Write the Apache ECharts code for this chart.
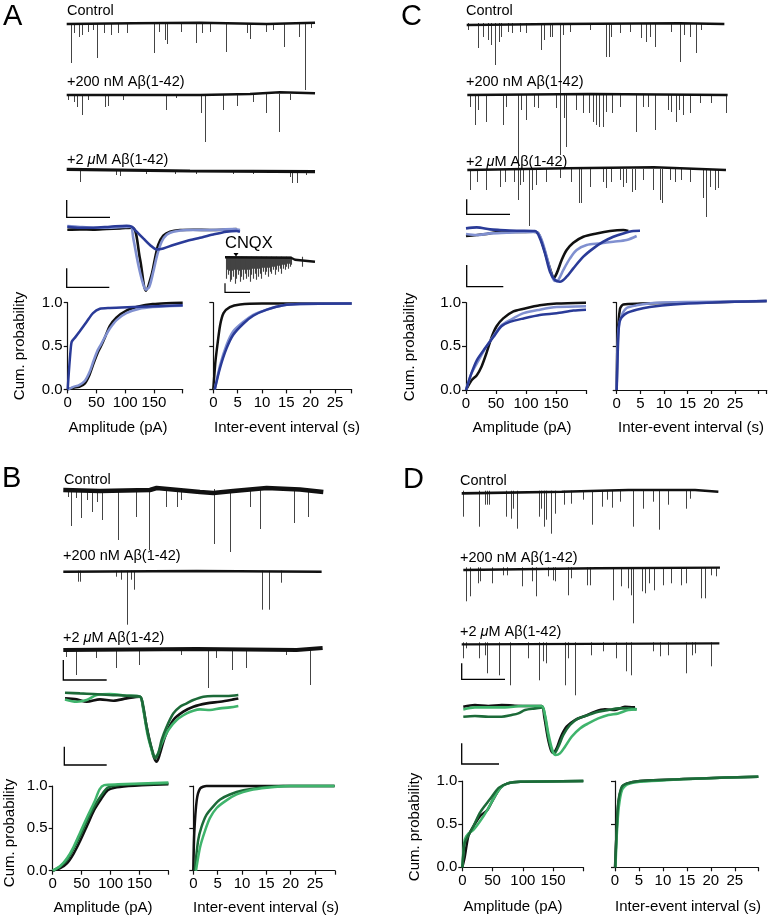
<!DOCTYPE html>
<html><head><meta charset="utf-8">
<script src="https://cdn.jsdelivr.net/npm/echarts@6/dist/echarts.min.js"></script>
<style>html,body{margin:0;padding:0;background:#fff}#c{width:770px;height:918px}</style>
</head><body><div id="c"></div>
<script>
// ================= DATA =================
// Sweep traces: events [time (s), amplitude (pA, downward)], baseline [time, level]
const aCtrlEvents = [[1.5,39],[2.2,9],[3.8,13],[4.8,11],[6.5,8],[8,6],[9.3,34],[11.2,9],[13.5,11],[15.5,9],[18.3,9],[26.3,29],[27.8,8],[29.7,16],[30.3,20],[34.5,8],[39,19],[40.6,9],[43,8],[47.8,28],[54.2,9],[55,15],[60,8],[62,6],[65.3,23],[69.7,13],[71.5,66],[73.5,4]];
const aCtrlBase = [[0,0],[20,0.7],[40,1.3],[60,0],[74.5,1.3]];
const a200Events = [[0.5,5],[2.2,7],[3.2,12],[4.8,20],[6.5,5],[11.5,12],[12.5,11],[17,5],[29.8,15],[33,3],[40.5,18],[41.7,47],[47,15],[51.2,11],[56,7],[60,18],[63.8,37],[67,5]];
const a200Base = [[0,0],[40,0],[55,1],[64,2.7],[74.5,1.7]];
const a2uEvents = [[4,11],[15,4],[16,5],[24,3],[32.5,3],[39,3],[50,3],[56,3],[67,6],[67.8,12],[69.3,12],[72,4]];
const a2uBase = [[0,1.7],[37,0],[74.5,-0.7]];
const cnqxEvents = [[1.7,21],[2.5,12],[3.3,17],[4.2,13],[5,24],[5.8,12],[6.7,22],[7.5,13],[8.3,19],[9.2,12],[10,26],[10.8,13],[11.7,21],[12.5,12],[13.3,17],[14.2,13],[15,24],[15.8,12],[16.7,19],[17.5,12],[18.3,22],[19.2,12],[20,16],[20.8,12],[21.7,21],[22.5,12],[23.3,19],[24.2,12],[25,24],[25.8,11],[26.7,17],[27.5,11],[28.3,21],[29.2,11],[30,16],[30.8,11],[31.7,22],[32.5,11],[33.3,19],[34.2,11],[35,16],[35.8,11],[36.7,21],[37.5,10],[38.3,14],[39.2,10],[40,17],[40.8,10],[41.7,14],[42.5,10],[43.3,19],[44.2,10],[45,14],[45.8,9],[46.7,16],[47.5,9],[48.3,12],[49.2,9],[50,17],[50.8,9],[51.7,12],[52.5,8],[53.3,14],[54.2,8],[55,11],[55.8,8],[56.7,16],[57.5,7],[58.3,11],[59.2,7],[60,12],[60.8,7],[61.7,9],[62.5,6],[63.3,11],[64.2,6],[65,9],[66.7,7],[77.3,9]];
const cnqxBase = [[0,0.5],[66,0],[70,-2],[90,-4]];

const cCtrlEvents = [[0.5,6],[3.5,24],[5,13],[6.5,16],[7.5,21],[8.7,41],[9.7,18],[10.5,13],[12.5,8],[13.8,9],[16.2,8],[18,9],[22.5,26],[23.3,16],[25,13],[25.7,13],[28,131],[29,11],[31,8],[37,6],[42,33],[42.7,33],[43.5,13],[46,9],[49,8],[52.5,14],[54,18],[55,13],[56.7,23],[61.5,8],[64.2,38],[65.2,11],[67,13],[68.8,29],[70.5,6]];
const cCtrlBase = [[0,-1],[27,0],[64,0.7],[77.3,0]];
const c200Events = [[0.8,12],[2.3,30],[3.3,15],[5.8,27],[10.8,30],[11.8,12],[15.3,105],[16.3,15],[17.8,25],[20,12],[21.3,13],[26.8,13],[28,25],[29,23],[29.6,52],[32.8,15],[34.8,18],[36.6,18],[37.8,27],[38.8,30],[39.6,32],[40.8,32],[41.8,17],[43.6,18],[45.8,12],[50.6,37],[52.8,12],[54.3,12],[56.5,35],[60.3,15],[61.3,17],[62.6,27],[63.6,15],[64.8,20],[66.8,18],[69.8,8],[73.3,8],[77.8,18]];
const c200Base = [[0,0],[37,1],[78.1,0]];
const c2uEvents = [[0.8,20],[3,12],[5.8,20],[9.8,17],[11.3,12],[14,12],[15.8,15],[16.8,12],[18.6,56],[19.6,20],[20.6,15],[23.8,12],[27.8,8],[31.3,12],[33.6,33],[34.3,33],[36.8,17],[40.8,12],[41.8,18],[43.3,12],[45.8,10],[46.8,17],[47.6,13],[49.6,22],[50.3,20],[52.8,10],[55.8,20],[57.8,30],[58.6,33],[60.8,10],[62.3,12],[64.3,10],[66.8,12],[70.8,28],[71.8,47],[72.8,17],[74.3,20],[75.3,18]];
const c2uBase = [[0,0],[30,1.7],[56,2.7],[77.6,0]];

const bCtrlEvents = [[1.5,7],[2.5,36],[4,8],[5.3,28],[7.2,10],[8.8,22],[10.3,12],[11.7,30],[16.5,50],[21.8,27],[25.7,60],[31,17],[34.3,17],[35.5,10],[45.3,54],[50,62],[56,17],[59,39],[69.2,33],[73.5,27]];
const bCtrlBase = [[0,0],[11,-1],[26,0],[28,2],[41,-2],[45,-3],[51,-1],[61,2],[71,0.5],[78,-2]];
const b200Events = [[4.5,10],[5.2,10],[16,5],[17.5,8],[19.3,53],[20.3,8],[21.2,18],[59.7,38],[61.8,38],[65.5,11]];
const b200Base = [[0,0],[40,0.7],[77.5,0]];
const b2uEvents = [[1,7],[3.8,25],[10,8],[16,18],[22.8,15],[35.5,5],[43.6,38],[46,8],[50.7,20],[55,18],[67,5],[74.2,35]];
const b2uBase = [[0,0],[40,1],[70,0],[77.8,2]];

const dCtrlEvents = [[0.5,25],[5.2,35],[7,13],[7.7,13],[8.3,13],[13.3,25],[15,27],[15.5,17],[16.7,37],[23.3,25],[24,17],[24.7,35],[25.5,28],[26.8,42],[28,22],[30.7,13],[33,12],[36.5,8],[39.3,33],[42.3,15],[43.7,8],[45.2,16],[47.5,10],[51.5,35],[54.5,17],[57.5,10],[59.3,38],[62,13],[67.3,17],[68.5,7]];
const dCtrlBase = [[0,-1.7],[30,0],[50,1.7],[70,1.7],[77,0]];
const d200Events = [[1,33],[2.2,28],[4.5,15],[5.2,13],[8.8,15],[12,7],[13.2,7],[17.8,18],[20.8,13],[21.8,28],[25.5,8],[27,12],[27.7,13],[31.5,27],[32.5,10],[37.2,17],[38,17],[45,32],[47.3,18],[49.5,20],[50.3,27],[51,55],[53.8,23],[54.7,25],[55.8,15],[57.2,22],[60,17],[62.5,15],[65.5,17],[66.8,15],[71.3,30],[72.5,30],[74.5,7],[76,8]];
const d200Base = [[0,-1.7],[40,0],[77,0.7]];
const d2uEvents = [[0.5,15],[1.5,5],[5.2,15],[7,12],[7.8,30],[11.3,32],[14.5,42],[20,15],[23.3,37],[24.5,18],[25.5,20],[31,42],[32,15],[34,52],[39,12],[42.5,8],[46.5,15],[49.3,28],[51,32],[57.5,8],[59.5,13],[62,12],[67.3,30],[69.3,12],[70,10],[75,23]];
const d2uBase = [[0,-1],[77.3,0]];

// Averaged events [time (ms), current]
const aAvgCtrl = [[0,-2],[3.8,-1.7],[7.8,-2],[11.8,-1.3],[15.8,-0.7],[19.6,0],[21.8,-31],[23.6,-63],[25.3,-47],[26.3,-31],[27.3,-17],[28.8,-8],[30.8,-4],[33.8,-2.3],[37.8,-2],[42.8,-2.3],[46.8,-2],[50.8,-1.3]];
const aAvg200 = [[0,1.7],[3.8,0.7],[7.8,0],[12.8,0],[16.8,0.7],[19,1],[19.8,-10.7],[21.3,-37],[22.8,-57],[23.6,-62],[24.6,-59],[25.8,-44],[27,-27],[28.3,-14],[29.8,-7],[31.8,-4],[35.8,-2.3],[40.8,-2.3],[45.8,-2],[49.8,-1.3],[51.8,-2.3]];
const aAvg2u = [[0,1],[3.8,0],[7.8,0],[12.8,1],[17.8,2],[19.3,1],[20.8,-4],[22.8,-10.7],[24.8,-17.3],[26.8,-21.7],[28.8,-20.7],[31.8,-17.3],[35.8,-13.3],[39.8,-10],[43.8,-6.7],[47.8,-4],[50.8,-3.3],[51.8,-4]];
const cAvgCtrl = [[0,-4.3],[3.2,-3.3],[6.2,-2.3],[10.2,0],[15.2,-0.3],[20.2,0],[21.7,-1.7],[23.2,-15],[24.7,-31.7],[26,-45],[26.2,-46.7],[27.2,-41.7],[28.7,-28.3],[30.2,-18.3],[32.2,-11],[35.2,-5],[39.2,-1.7],[43.2,0.7],[47.2,1.7],[48.7,0.7]];
const cAvg200 = [[0,-2.3],[3.2,-3.3],[7.2,-1.7],[12.2,-1],[17.2,-0.3],[21.2,-0.3],[22.7,-8.3],[24.2,-25],[25.7,-43.3],[26.7,-49.3],[27.7,-48.3],[29.2,-38.3],[31.2,-26.7],[33.2,-18.3],[36.2,-13.3],[40.2,-11.7],[44.2,-10],[48.2,-8.3],[51.2,-4.3]];
const cAvg2u = [[0,3.3],[3.2,4.3],[7.2,2.3],[10.2,1.7],[15.2,1],[20.7,0.7],[22.2,-6.7],[23.7,-21.7],[25.2,-40],[26.7,-48.3],[28.2,-50],[30.2,-45],[32.2,-36.7],[35.2,-25],[38.2,-16.7],[41.2,-10],[44.2,-5],[47.2,-1.7],[50.2,0.7],[52.2,1]];
const bAvgCtrl = [[0,-1.7],[3.5,-2.7],[6.5,-5],[10.5,-2.7],[14.5,-4],[18.5,-1.7],[22.5,0],[23.3,-8.3],[24.5,-30],[25.7,-48.3],[26.8,-61.7],[27.5,-65],[28.5,-56.7],[30,-40],[32.5,-23.3],[35.5,-15],[38.5,-10],[42.5,-6.7],[46.5,-5],[50.5,-2.7],[52,-1.7]];
const bAvg200 = [[0,-2.7],[3.5,-5],[6.5,-3.3],[9.5,1.7],[13.5,2.7],[18.5,1],[22.5,0],[23.5,-13.3],[24.7,-36.7],[26,-53.3],[26.7,-60],[27.7,-58.3],[29,-46.7],[31,-33.3],[33.5,-23.3],[36.5,-16.7],[38.5,-14],[40.5,-12.7],[43.5,-13.3],[46.5,-11.7],[49.5,-10.7],[52,-9.3]];
const bAvg2u = [[0,4],[4.5,3.3],[8.5,2.7],[13.5,1.7],[18.5,1],[22.5,0],[23.3,-6.7],[24.3,-26.7],[25.3,-43.3],[26.3,-55],[27,-61.7],[28,-56.7],[29,-43.3],[30.5,-30],[32.5,-16.7],[34.5,-10],[36.5,-6.7],[38.5,-3.3],[41.5,0],[44.5,0.7],[48.5,0.7],[52,1.7]];
const dAvgCtrl = [[0,0],[3.5,1.7],[7.5,0.7],[11.5,1.7],[15.5,1],[19.5,0.7],[23.5,0.7],[24.3,-10],[25.3,-30],[26.3,-43.3],[27,-46],[28,-41.7],[29.3,-30],[31,-20],[33.5,-13.3],[36.5,-9.3],[39.5,-5],[42.5,-2.7],[45.5,-3.3],[48.5,0],[51.5,-0.7]];
const dAvg200 = [[0,-2.7],[3.5,-0.7],[7.5,-0.7],[12.5,-0.7],[17.5,0.7],[23.5,0.7],[24.5,-8.3],[25.5,-26.7],[26.7,-43.3],[27.7,-48.3],[29,-46.7],[30.5,-40],[32.5,-30],[35,-21.7],[37.5,-16.7],[40.5,-11.7],[43.5,-8.3],[46.5,-6.7],[49.5,-3.3],[52,-2.7]];
const dAvg2u = [[0,-10],[3.5,-9.3],[7.5,-10],[11.5,-10],[14.5,-8.3],[16.5,-6.7],[18.5,-3.3],[21.5,-1.7],[23.7,-0.7],[24.5,-10],[25.5,-30],[26.5,-43.3],[27.3,-46.7],[28.5,-40],[30,-28.3],[32,-18.3],[34.5,-11.7],[37.5,-8.3],[40.5,-5],[43.5,-3.3],[46.5,-1.7],[49.5,-1.7],[52,-2.7]];

// Cumulative probability curves [value, probability]
const aAmpCtrl = [[0,0],[10,0.02],[20,0.03],[30,0.07],[38,0.17],[45,0.3],[52,0.42],[58,0.5],[66,0.62],[73,0.73],[85,0.83],[102,0.91],[125,0.96],[148,0.985],[171,0.995],[200,1.0]];
const aAmp200 = [[0,0],[10,0.03],[20,0.05],[30,0.1],[38,0.2],[45,0.33],[52,0.45],[58,0.52],[66,0.62],[73,0.7],[85,0.8],[102,0.88],[125,0.93],[148,0.95],[171,0.96],[200,0.965]];
const aAmp2u = [[0,0],[2,0.2],[5,0.45],[7,0.55],[13,0.6],[21,0.67],[33,0.78],[44,0.88],[56,0.93],[73,0.94],[114,0.95],[200,0.97]];
const aIeiCtrl = [[0,0],[0.4,0.3],[0.7,0.45],[1.4,0.74],[2.1,0.88],[3.4,0.95],[5.5,0.98],[10,0.99],[28.4,0.99]];
const aIei200 = [[0.3,0],[1.4,0.28],[2.7,0.51],[4.1,0.67],[6.2,0.78],[8.2,0.86],[11,0.92],[14.4,0.97],[17.8,0.985],[28.4,0.99]];
const aIei2u = [[0.3,0],[1.4,0.25],[2.7,0.47],[4.1,0.63],[6.2,0.76],[8.2,0.85],[11,0.92],[14.4,0.97],[17.8,0.985],[28.4,0.99]];
const cAmpCtrl = [[0,0],[9,0.11],[18,0.17],[26,0.27],[34,0.42],[43,0.61],[51,0.73],[62,0.82],[79,0.9],[96,0.93],[123,0.97],[151,0.99],[200,1.0]];
const cAmp200 = [[0,0],[9,0.19],[21,0.34],[34,0.5],[46,0.62],[59,0.74],[73,0.8],[96,0.88],[123,0.92],[151,0.95],[200,0.96]];
const cAmp2u = [[0,0],[9,0.19],[18,0.34],[32,0.48],[46,0.61],[59,0.73],[73,0.78],[96,0.82],[123,0.86],[151,0.88],[179,0.91],[200,0.92]];
const cIeiCtrl = [[0,0],[0.2,0.6],[0.7,0.93],[1.4,0.98],[5,0.99],[15,1.0],[31.7,1.02]];
const cIei200 = [[0,0],[0.35,0.69],[1.1,0.86],[2.1,0.94],[4.2,0.97],[8.5,1.0],[31.7,1.02]];
const cIei2u = [[0,0],[0.35,0.61],[0.7,0.8],[2.1,0.88],[4.2,0.92],[7,0.95],[12,0.98],[19,1.0],[31.7,1.02]];
const bAmpCtrl = [[0,0],[13,0.03],[25,0.09],[36,0.2],[48,0.36],[60,0.54],[72,0.72],[84,0.85],[95,0.95],[107,0.98],[131,1.0],[154,1.01],[200,1.02]];
const bAmp200 = [[0,0],[13,0.055],[25,0.15],[36,0.28],[48,0.46],[60,0.64],[72,0.81],[81,0.96],[89,1.01],[113,1.02],[200,1.04]];
const bAmp2u = [[0,0],[13,0.05],[25,0.13],[36,0.26],[48,0.42],[60,0.6],[72,0.76],[84,0.89],[95,0.98],[113,1.01],[142,1.02],[200,1.03]];
const bIeiCtrl = [[0,0],[0.2,0.44],[0.7,0.83],[1.4,0.97],[2.7,1.0],[29,1.0]];
const bIei200 = [[0.55,0],[1.4,0.28],[2.4,0.47],[3.4,0.62],[4.8,0.74],[6.8,0.83],[8.9,0.9],[11.6,0.95],[15.1,0.98],[19.9,1.0],[29,1.0]];
const bIei2u = [[0.3,0],[1,0.36],[1.7,0.52],[2.7,0.66],[4.1,0.76],[5.5,0.84],[7.5,0.9],[10.3,0.95],[13.7,0.98],[18.5,1.0],[29,1.0]];
const dAmpCtrl = [[0,0],[4,0.12],[10,0.36],[18,0.47],[29,0.59],[41,0.66],[52,0.8],[63,0.92],[74,0.97],[96,0.99],[200,1.0]];
const dAmp200 = [[0,0],[4,0.32],[10,0.39],[18,0.43],[29,0.53],[41,0.66],[52,0.8],[63,0.92],[74,0.97],[96,0.99],[200,1.0]];
const dAmp2u = [[0,0],[4,0.28],[10,0.37],[18,0.47],[29,0.63],[38,0.72],[49,0.82],[60,0.92],[74,0.97],[96,0.99],[200,1.0]];
const dIeiCtrl = [[0,0],[0.35,0.43],[0.7,0.74],[1.4,0.92],[2.4,0.97],[5.2,1.0],[17.7,1.03],[29.9,1.05]];
const dIei200 = [[0.1,0],[0.4,0.4],[0.8,0.7],[1.5,0.9],[2.6,0.96],[5.2,0.99],[17.7,1.03],[29.9,1.05]];
const dIei2u = [[0.05,0],[0.35,0.45],[0.7,0.76],[1.4,0.93],[2.4,0.97],[5.2,1.0],[17.7,1.03],[29.9,1.05]];

// Tick labels
const ampTicks = [0,50,100,150];
const ieiTicks = [0,5,10,15,20,25];
const probTicks = [0,0.5,1];
const panelLetters = ['A','B','C','D'];
const condLabels = ['Control','+200 nM Aβ(1-42)','+2 {i|μ}M Aβ(1-42)'];

// ================= RENDERING =================
const FONT = '"Liberation Sans", Arial, Helvetica, sans-serif';
const BLACK='#111111', LBLUE='#8090d0', DBLUE='#2a3b98', LGREEN='#3fb46c', DGREEN='#1c6a38';
const PXS = 10/3;
const grid=[], xAxis=[], yAxis=[], series=[], graphic=[];

function addGrid(l,t,w,h,xa,ya){
  const i=grid.length;
  grid.push({left:l,top:t,width:w,height:h});
  xAxis.push(Object.assign({type:'value',gridIndex:i},xa));
  yAxis.push(Object.assign({type:'value',gridIndex:i},ya));
  return i;
}
function hid(min,max){ return {min,max,show:false,splitLine:{show:false}}; }

function addTrace(x0, baseY, tMax, base, events, lw, unitPx, spikeW){
  const u = unitPx || PXS;
  const top=8, depth=140;
  const i = addGrid(x0, baseY-top, tMax*u, top+depth, hid(0,tMax), hid(-depth,top));
  series.push({type:'lines', coordinateSystem:'cartesian2d', xAxisIndex:i, yAxisIndex:i, silent:true, z:2,
    lineStyle:{color:'#444444', width:spikeW||1, opacity:1, curveness:0},
    data: events.map(e=>({coords:[[e[0],1],[e[0],-e[1]]]}))});
  series.push({type:'line', xAxisIndex:i, yAxisIndex:i, data:base, symbol:'none', silent:true, z:3,
    lineStyle:{color:BLACK,width:lw}});
}

function addOverlay(x0, baseY, curves){
  const i = addGrid(x0, baseY-12, 52.5*PXS, 82, hid(0,52.5), hid(-70,12));
  curves.forEach(c=>series.push({type:'line', xAxisIndex:i, yAxisIndex:i, data:c[0], symbol:'none', smooth:0.3, silent:true, z:4,
    lineStyle:{color:c[1],width:2.6}}));
}

function addCum(l,t,w,h,xMax,interval,ticks,yLabels,curves){
  const axisLine={show:true,onZero:false,lineStyle:{color:'#111',width:1.2}};
  const tick={show:true,length:4,lineStyle:{color:'#111',width:1.2}};
  const i = addGrid(l,t,w,h,
    {min:0,max:xMax,interval,axisLine,axisTick:tick,splitLine:{show:false},
     axisLabel:{show:true,color:'#000',fontSize:15,fontFamily:FONT,margin:6,showMaxLabel:true,
       formatter:v=>ticks.includes(v)?String(v):''}},
    {min:0,max:1,interval:0.5,axisLine,axisTick:tick,splitLine:{show:false},
     axisLabel:{show:yLabels,color:'#000',fontSize:15,fontFamily:FONT,margin:5,
       formatter:v=>probTicks.includes(v)?v.toFixed(1):''}});
  curves.forEach(c=>series.push({type:'line', xAxisIndex:i, yAxisIndex:i, data:c[0], symbol:'none', smooth:0.25, clip:false, silent:true, z:4,
    lineStyle:{color:c[1],width:2.5}}));
}

function txt(x,y,s,size,extra){
  const st = Object.assign({text:s,fontSize:size,fontFamily:FONT,fill:'#000',align:'left',verticalAlign:'middle'}, extra||{});
  if (s.indexOf('{i|')>=0) st.rich = {i:{fontStyle:'italic',fontSize:size,fontFamily:FONT,fill:'#000'}};
  graphic.push({type:'text',x,y,silent:true,z:10,style:st});
}
function vtxt(x,y,s,size){
  graphic.push({type:'text',x,y,rotation:Math.PI/2,silent:true,z:10,
    style:{text:s,fontSize:size,fontFamily:FONT,fill:'#000',align:'center',verticalAlign:'middle'}});
}
function bar(x0,yTop,yBot,x1,w){
  graphic.push({type:'polyline',silent:true,z:10,shape:{points:[[x0,yTop],[x0,yBot],[x1,yBot]]},style:{stroke:'#000',lineWidth:w||1.3,fill:null}});
}

// ---- Panel A ----
txt(3,17,panelLetters[0],29);
txt(67,11,condLabels[0],14.5); txt(67,82,condLabels[1],14.5); txt(67,160,condLabels[2],14.5);
addTrace(66.7,24,74.5,aCtrlBase,aCtrlEvents,2.5);
addTrace(66.7,95,74.5,a200Base,a200Events,2.5);
addTrace(66.7,171,74.5,a2uBase,a2uEvents,3.2);
bar(66.7,200,217.3,110);
addOverlay(67.3,227.7,[[aAvgCtrl,BLACK],[aAvg200,LBLUE],[aAvg2u,DBLUE]]);
bar(66.7,268.3,287.3,109.3);
txt(225,243,'CNQX',16.5);
graphic.push({type:'polygon',silent:true,z:10,shape:{points:[[233.5,253],[238.5,253],[236,256.5]]},style:{fill:'#000'}});
addTrace(225,257.7,90,cnqxBase,cnqxEvents,2.4,1,1.1);
bar(225,283.3,292.3,250,1.2);
addCum(67.7,302.7,115,86.7,200,50,ampTicks,true,[[aAmpCtrl,BLACK],[aAmp200,LBLUE],[aAmp2u,DBLUE]]);
addCum(213.3,302.7,138.3,86.7,28.4,5,ieiTicks,false,[[aIeiCtrl,BLACK],[aIei200,LBLUE],[aIei2u,DBLUE]]);
vtxt(20,346,'Cum. probability',15);
txt(118,428,'Amplitude (pA)',15,{align:'center'});
txt(287,428,'Inter-event interval (s)',15,{align:'center'});

// ---- Panel C ----
txt(401,17,panelLetters[2],29);
txt(466,11,condLabels[0],14.5); txt(466,82,condLabels[1],14.5); txt(466,162,condLabels[2],14.5);
addTrace(466.7,24,77.3,cCtrlBase,cCtrlEvents,2.4);
addTrace(467.3,95,78.1,c200Base,c200Events,2.4);
addTrace(467.3,170,77.6,c2uBase,c2uEvents,2.4);
bar(466.7,199.3,214.3,510);
addOverlay(466,231.7,[[cAvgCtrl,BLACK],[cAvg200,LBLUE],[cAvg2u,DBLUE]]);
bar(466.7,265,286.7,503.3);
addCum(466,302.7,120,87.3,200,50,ampTicks,true,[[cAmpCtrl,BLACK],[cAmp200,LBLUE],[cAmp2u,DBLUE]]);
addCum(616.7,302.7,150,87.3,31.7,5,ieiTicks,false,[[cIeiCtrl,BLACK],[cIei200,LBLUE],[cIei2u,DBLUE]]);
vtxt(410,347,'Cum. probability',15);
txt(522,428,'Amplitude (pA)',15,{align:'center'});
txt(691,428,'Inter-event interval (s)',15,{align:'center'});

// ---- Panel B ----
txt(2,479,panelLetters[1],29);
txt(64,480,condLabels[0],14.5); txt(63,556,condLabels[1],14.5); txt(63,638,condLabels[2],14.5);
addTrace(63.3,490,78,bCtrlBase,bCtrlEvents,4.5);
addTrace(63.3,571.7,77.5,b200Base,b200Events,2.4);
addTrace(63.3,650,77.8,b2uBase,b2uEvents,4);
bar(63.3,660,680,106.7);
addOverlay(65,696.7,[[bAvgCtrl,BLACK],[bAvg200,LGREEN],[bAvg2u,DGREEN]]);
bar(64.3,746.7,765,106.7);
addCum(52.7,786,115.7,84.7,200,50,ampTicks,true,[[bAmpCtrl,BLACK],[bAmp2u,DGREEN],[bAmp200,LGREEN]]);
addCum(193.3,786,141.7,84.7,29.1,5,ieiTicks,false,[[bIeiCtrl,BLACK],[bIei2u,DGREEN],[bIei200,LGREEN]]);
vtxt(10,833,'Cum. probability',15);
txt(103,908,'Amplitude (pA)',15,{align:'center'});
txt(266,908,'Inter-event interval (s)',15,{align:'center'});

// ---- Panel D ----
txt(403,480,panelLetters[3],29);
txt(460,481,condLabels[0],14.5); txt(460,558,condLabels[1],14.5); txt(460,632,condLabels[2],14.5);
addTrace(461.7,491.7,77,dCtrlBase,dCtrlEvents,2.6);
addTrace(463.3,568.3,77,d200Base,d200Events,2.4);
addTrace(461.7,643.3,77.3,d2uBase,d2uEvents,2.2);
bar(461.7,663.3,679.3,505);
addOverlay(463.3,706.7,[[dAvgCtrl,BLACK],[dAvg2u,DGREEN],[dAvg200,LGREEN]]);
bar(461.7,743.3,764,499);
addCum(462.3,781,121,86.3,200,50,ampTicks,true,[[dAmpCtrl,BLACK],[dAmp200,LGREEN],[dAmp2u,DGREEN]]);
addCum(615,781,143.3,86.3,29.9,5,ieiTicks,false,[[dIeiCtrl,BLACK],[dIei200,LGREEN],[dIei2u,DGREEN]]);
vtxt(415,827,'Cum. probability',15);
txt(513,907,'Amplitude (pA)',15,{align:'center'});
txt(688,907,'Inter-event interval (s)',15,{align:'center'});

const chart = echarts.init(document.getElementById('c'), null, {renderer:'canvas'});
chart.setOption({
  animation:false,
  backgroundColor:'#ffffff',
  textStyle:{fontFamily:FONT},
  grid, xAxis, yAxis, series, graphic
});
</script>
</body></html>
